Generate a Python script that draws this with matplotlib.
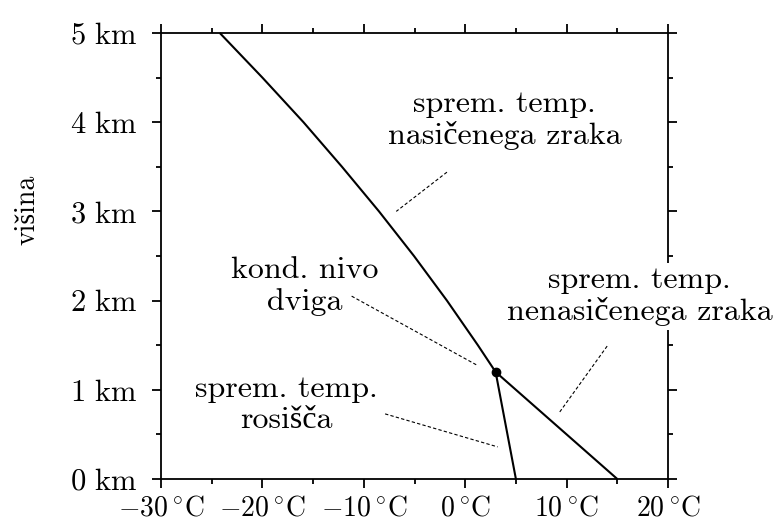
import matplotlib
matplotlib.use("Agg")
import matplotlib.pyplot as plt

plt.rcParams['mathtext.fontset'] = 'cm'
plt.rcParams['font.family'] = ['cmr10', 'Liberation Serif']
plt.rcParams['axes.unicode_minus'] = False

# moist (saturated) adiabat
moist_h = [1.2, 1.5, 2.0, 2.5, 3.0, 3.5, 4.0, 4.5, 5.0]
moist_t = [3.0, 1.25, -1.8, -5.05, -8.5, -12.15, -15.95, -20.0, -24.2]
# dry adiabat
dry_h = [0.0, 1.2]
dry_t = [15.0, 3.0]
# dew point
dew_h = [0.0, 1.2]
dew_t = [5.0, 3.0]
# lifting condensation level
lcl_t, lcl_h = 3.0, 1.2

xticks = [-30, -20, -10, 0, 10, 20]
yticks = [0, 1, 2, 3, 4, 5]
xlabels = [r'$%d\,^{\circ}\mathrm{C}$' % v if v >= 0 else r'$-%d\,^{\circ}\mathrm{C}$' % (-v) for v in xticks]
ylabels = [r'$%d\ \mathrm{km}$' % v for v in yticks]

fig = plt.figure(figsize=(7.73, 5.25), dpi=100)
ax = fig.add_axes([161/773, 46/525, 507/773, 446/525])
ax.set_xlim(-30, 20)
ax.set_ylim(0, 5)

lw = 1.5
ax.plot(moist_t, moist_h, color='black', lw=lw, solid_capstyle='butt', clip_on=False)
ax.plot(dry_t, dry_h, color='black', lw=lw, solid_capstyle='butt')
ax.plot(dew_t, dew_h, color='black', lw=lw, solid_capstyle='butt')
ax.plot([lcl_t], [lcl_h], 'o', color='black', ms=6, zorder=5)

for s in ax.spines.values():
    s.set_linewidth(1.3)

fs = 23
ax.set_xticks(xticks)
ax.set_xticklabels(xlabels)
ax.set_yticks(yticks)
ax.set_yticklabels(ylabels)
ax.set_xticks([-25, -15, -5, 5, 15], minor=True)
ax.set_yticks([0.5, 1.5, 2.5, 3.5, 4.5], minor=True)
ax.tick_params(which='both', direction='out', top=True, right=True, width=1.3)
ax.tick_params(which='major', length=6.5)
ax.tick_params(which='minor', length=3.5)
ax.tick_params(axis='x', which='major', labelsize=20, pad=5)
ax.tick_params(axis='y', which='major', labelsize=22, pad=10.5)

dash = dict(color='black', lw=0.8, ls=(0, (3, 2)))
ls_ = 1.15

# annotations
ax.text(3.9, 4.02, 'sprem. temp.\nnasičenega zraka', ha='center', va='center',
        fontsize=fs, linespacing=ls_)
ax.plot([-1.8, -6.8], [3.44, 3.0], **dash)

ax.text(-15.8, 2.16, 'kond. nivo\ndviga', ha='center', va='center',
        fontsize=fs, linespacing=ls_)
ax.plot([-11.2, 1.26], [2.05, 1.27], **dash)

ax.text(-17.6, 0.83, 'sprem. temp.\nrosišča', ha='center', va='center',
        fontsize=fs, linespacing=ls_)
ax.plot([-7.9, 3.2], [0.73, 0.36], **dash)

ax.text(17.2, 2.05, 'sprem. temp.\nnenasičenega zraka', ha='center', va='center',
        fontsize=fs, linespacing=ls_, zorder=10, clip_on=False,
        bbox=dict(facecolor='white', edgecolor='none', pad=2.5))
ax.plot([14.0, 9.25], [1.49, 0.74], **dash)

fig.text(27/773, 1 - 210/525, 'višina', rotation=90, ha='center', va='center', fontsize=20)

fig.savefig('out.png', dpi=100)
